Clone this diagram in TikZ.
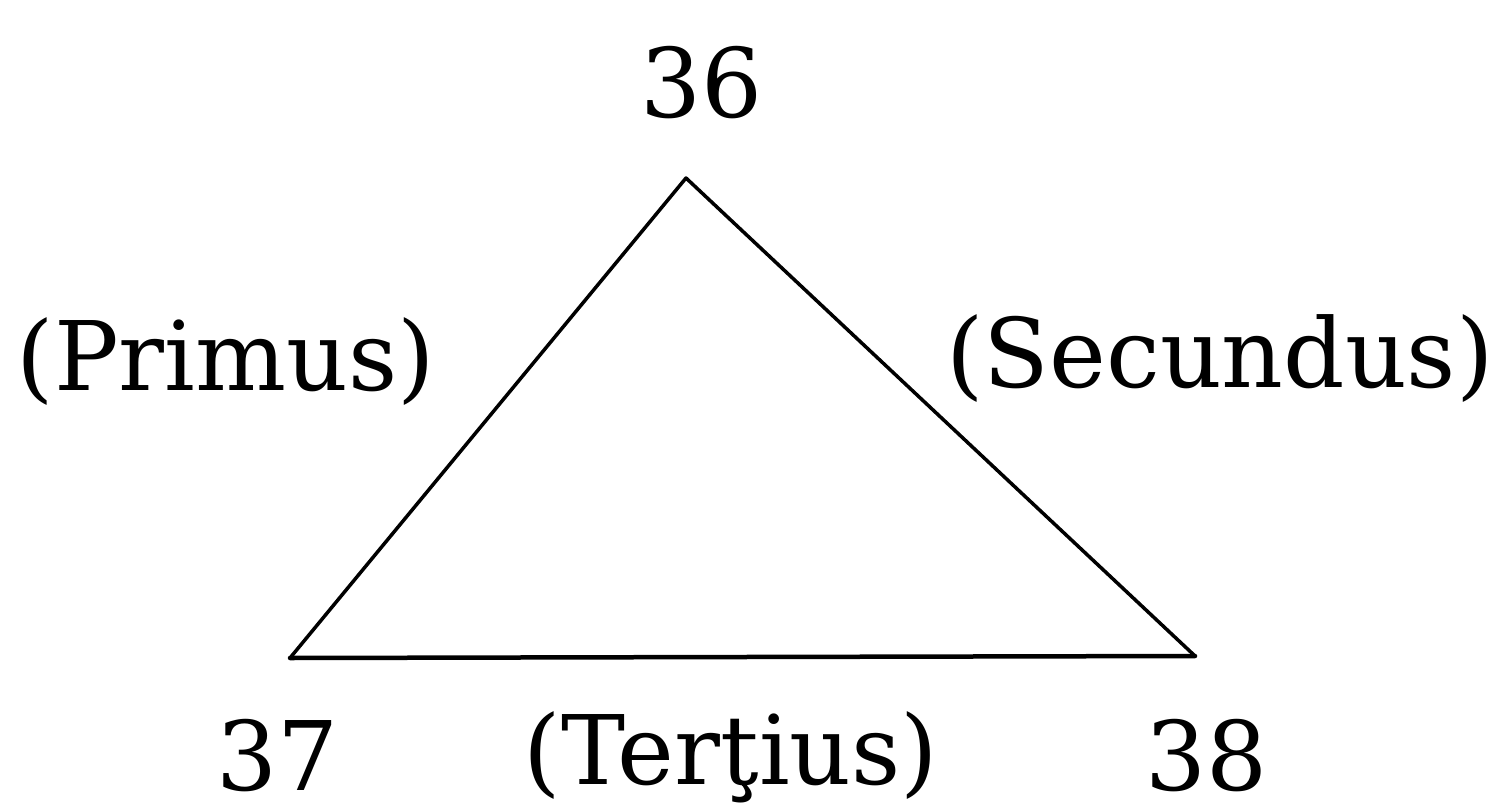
\documentclass[tikz,border=0pt]{standalone}
\usepackage{fontspec}
\setmainfont{DejaVu Serif}
\begin{document}
\begin{tikzpicture}[x=1pt,y=-1pt,
  lbl/.style={inner sep=0pt,anchor=base,font=\fontsize{96}{110}\selectfont},
  side/.style={line width=3.5pt,line cap=round,line join=round}]
\useasboundingbox (0,0) rectangle (1507,806);
\coordinate (top) at (686,178);
\coordinate (left) at (290,658);
\coordinate (right) at (1195,656);
\node[lbl] (n36) at (702,117) {36};
\node[lbl] (n37) at (278,790) {37};
\node[lbl] (n38) at (1207,790) {38};
\node[lbl] (primus) at (226,390) {(Primus)};
\node[lbl] (secundus) at (1220,387) {(Secundus)};
\node[lbl] (tertius) at (731,784) {(Terţius)};
\draw[side] (left) -- (top) -- (right);
\draw[side,line width=4.5pt] (left) -- (right);
\end{tikzpicture}
\end{document}
